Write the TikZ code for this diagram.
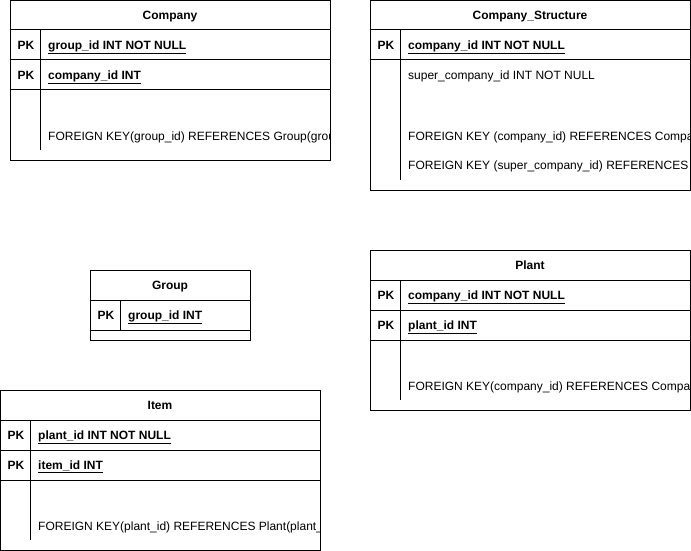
\documentclass[tikz,border=0pt]{standalone}
\usepackage{fontspec}
\setmainfont{Liberation Sans}
\usetikzlibrary{positioning}
\newcommand{\tblfont}{\fontsize{12}{14}\selectfont}
\tikzset{
  tblline/.style={draw=black, line width=1pt},
  tbltitle/.style={font=\tblfont\bfseries, anchor=base, inner sep=0pt},
  pkcell/.style={font=\tblfont\bfseries, anchor=base, inner sep=0pt},
  keyfield/.style={font=\tblfont\bfseries, anchor=base west, inner sep=0pt},
  plainfield/.style={font=\tblfont, anchor=base west, inner sep=0pt},
}
\newcommand{\keyname}[1]{\underline{#1}}

\begin{document}
\begin{tikzpicture}[x=1pt, y=-1pt]
  % 1 unit = 1 px of the reference, y grows downwards
  \useasboundingbox (0,0) rectangle (691,551);

  % Company
  \begin{scope}
    \clip (10,0) rectangle (329.5,160);
    \node[tbltitle] (company) at (170,19.3) {Company};
    \node[pkcell] (company-pk1) at (26,49.3) {PK};
    \node[pkcell] (company-pk2) at (26,79.3) {PK};
    \node[keyfield] (company-f1) at (48,49.3) {\keyname{group\_id INT NOT NULL}};
    \node[keyfield] (company-f2) at (48,79.3) {\keyname{company\_id INT}};
    \node[plainfield] (company-fk) at (48,140) {FOREIGN KEY(group\_id) REFERENCES Group(group\_id)};
  \end{scope}
  \draw[tblline] (10,0.5) rectangle (330,160);
  \draw[tblline] (10,30) -- (330,30) (10,60) -- (330,60) (10,90) -- (330,90);
  \draw[tblline] (40,30) -- (40,150);

  % Company_Structure
  \begin{scope}
    \clip (370,0) rectangle (689.5,190);
    \node[tbltitle] (structure) at (530,19.3) {Company\_Structure};
    \node[pkcell] (structure-pk1) at (386,49.3) {PK};
    \node[keyfield] (structure-f1) at (408,49.3) {\keyname{company\_id INT NOT NULL}};
    \node[plainfield] (structure-f2) at (408,80) {super\_company\_id INT NOT NULL};
    \node[plainfield] (structure-fk1) at (408,140) {FOREIGN KEY (company\_id) REFERENCES Company(company\_id)};
    \node[plainfield] (structure-fk2) at (408,169.5) {FOREIGN KEY (super\_company\_id) REFERENCES Company(company\_id)};
  \end{scope}
  \draw[tblline] (370,0.5) rectangle (690,190);
  \draw[tblline] (370,30) -- (690,30) (370,60) -- (690,60);
  \draw[tblline] (400,30) -- (400,180);

  % Group
  \node[tbltitle] (group) at (170,289.3) {Group};
  \node[pkcell] (group-pk1) at (106,319.3) {PK};
  \node[keyfield] (group-f1) at (128,319.3) {\keyname{group\_id INT}};
  \draw[tblline] (90,270) rectangle (250,340);
  \draw[tblline] (90,300) -- (250,300) (90,330) -- (250,330);
  \draw[tblline] (120,300) -- (120,330);

  % Plant
  \begin{scope}
    \clip (370,250) rectangle (689.5,410);
    \node[tbltitle] (plant) at (530,269.3) {Plant};
    \node[pkcell] (plant-pk1) at (386,299.3) {PK};
    \node[pkcell] (plant-pk2) at (386,329.3) {PK};
    \node[keyfield] (plant-f1) at (408,299.3) {\keyname{company\_id INT NOT NULL}};
    \node[keyfield] (plant-f2) at (408,329.3) {\keyname{plant\_id INT}};
    \node[plainfield] (plant-fk) at (408,390) {FOREIGN KEY(company\_id) REFERENCES Company(company\_id)};
  \end{scope}
  \draw[tblline] (370,250) rectangle (690,410);
  \draw[tblline] (370,280) -- (690,280) (370,310) -- (690,310) (370,340) -- (690,340);
  \draw[tblline] (400,280) -- (400,400);

  % Item
  \begin{scope}
    \clip (0,390) rectangle (319.5,550);
    \node[tbltitle] (item) at (160,409.3) {Item};
    \node[pkcell] (item-pk1) at (16,439.3) {PK};
    \node[pkcell] (item-pk2) at (16,469.3) {PK};
    \node[keyfield] (item-f1) at (38,439.3) {\keyname{plant\_id INT NOT NULL}};
    \node[keyfield] (item-f2) at (38,469.3) {\keyname{item\_id INT}};
    \node[plainfield] (item-fk) at (38,530) {FOREIGN KEY(plant\_id) REFERENCES Plant(plant\_id)};
  \end{scope}
  \draw[tblline] (0.5,390) rectangle (320,550);
  \draw[tblline] (0.5,420) -- (320,420) (0.5,450) -- (320,450) (0.5,480) -- (320,480);
  \draw[tblline] (30,420) -- (30,540);
\end{tikzpicture}
\end{document}
